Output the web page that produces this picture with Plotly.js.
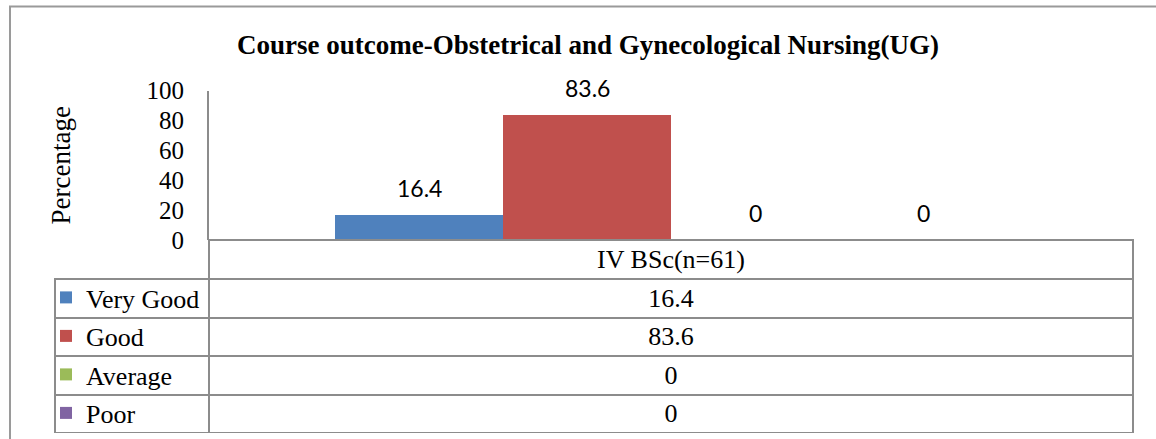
<!DOCTYPE html>
<html>
<head>
<meta charset="utf-8">
<script src="https://cdn.plot.ly/plotly-3.0.1.min.js"></script>
<style>
  html, body { margin: 0; padding: 0; background: #fff; }
  #chart { width: 1156px; height: 439px; }
</style>
</head>
<body>
<div id="chart"></div>
<script>
// Data ------------------------------------------------------------------------
const groupLabel = 'IV BSc(n=61)'
const categories = ['Very Good', 'Good', 'Average', 'Poor']
const values = [16.4, 83.6, 0, 0]
const colours = ['#4F81BD', '#C0504D', '#9BBB59', '#8064A2']
const yTicks = [0, 20, 40, 60, 80, 100]

// Utils -----------------------------------------------------------------------
const W = 1156
const H = 439
const px = x => x / W
const py = y => 1 - y / H
const serif = '"Liberation Serif", "Times New Roman", serif'
const lineCol = '#8c8c8c'

// Bars (one trace per rating so the legend gives the keys of the table) -------
const bars = categories.map((c, i) => ({
  type: 'bar',
  name: c,
  legendgroup: c,
  x: [c],
  y: [values[i]],
  marker: { color: colours[i] },
  hoverinfo: 'x+y',
  xaxis: 'x',
  yaxis: 'y'
}))

// Data table under the plot ---------------------------------------------------
// the first column is left blank: the legend draws the keys and names there
const table = {
  type: 'table',
  domain: { x: [px(55), px(1133)], y: [py(433), py(240)] },
  columnwidth: [154, 924],
  header: {
    values: [[''], [groupLabel]],
    align: ['left', 'center'],
    height: 39,
    fill: { color: ['rgba(0,0,0,0)', 'white'] },
    line: { color: ['rgba(0,0,0,0)', lineCol], width: 2 },
    font: { family: serif, size: 26, color: '#000' }
  },
  cells: {
    values: [
      categories.map(() => ''),
      values.map(v => String(v))
    ],
    align: ['left', 'center'],
    height: 38.5,
    fill: { color: 'white' },
    line: { color: lineCol, width: 2 },
    font: { family: serif, size: 26, color: '#000' }
  }
}

// Layout ----------------------------------------------------------------------
const layout = {
  width: W,
  height: H,
  margin: { l: 0, r: 0, t: 0, b: 0 },
  paper_bgcolor: 'white',
  plot_bgcolor: 'white',
  barmode: 'overlay',
  bargap: 0,
  showlegend: true,
  legend: {
    x: px(46),
    xanchor: 'left',
    y: py(274),
    yanchor: 'top',
    orientation: 'v',
    traceorder: 'grouped',
    tracegroupgap: 1.7,
    bgcolor: 'rgba(0,0,0,0)',
    borderwidth: 0,
    font: { family: serif, size: 26, color: '#000' }
  },
  title: {
    text: '<b>Course outcome-Obstetrical and Gynecological Nursing(UG)</b>',
    x: px(588),
    y: py(45),
    xanchor: 'center',
    yanchor: 'middle',
    font: { family: serif, size: 27, color: '#000' }
  },
  xaxis: {
    domain: [px(209), px(1133)],
    range: [-1.25, 4.25],
    showticklabels: false,
    ticks: '',
    showgrid: false,
    zeroline: false,
    showline: false,
    fixedrange: true
  },
  yaxis: {
    domain: [py(240), py(90.5)],
    range: [0, 100],
    tickvals: yTicks,
    ticks: '',
    ticklabelstandoff: 18,
    showgrid: false,
    zeroline: false,
    showline: true,
    linecolor: lineCol,
    linewidth: 2,
    tickfont: { family: serif, size: 25, color: '#000' },
    title: {
      text: 'Percentage',
      standoff: 68,
      font: { family: serif, size: 27, color: '#000' }
    },
    fixedrange: true
  },
  annotations: categories.map((c, i) => ({
    x: c,
    y: values[i],
    xref: 'x',
    yref: 'y',
    text: String(values[i]),
    showarrow: false,
    yanchor: 'middle',
    yshift: 27,
    font: { family: 'Lato, "Liberation Sans", sans-serif', size: 23, color: '#000' }
  })),
  shapes: [
    {
      // outer chart frame
      type: 'rect',
      xref: 'paper',
      yref: 'paper',
      x0: px(10),
      x1: 1.05,
      y0: -0.05,
      y1: py(6.5),
      line: { color: '#9a9a9a', width: 2 }
    }
  ]
}

Plotly.newPlot('chart', [...bars, table], layout, { displayModeBar: false, staticPlot: true })
</script>
</body>
</html>
